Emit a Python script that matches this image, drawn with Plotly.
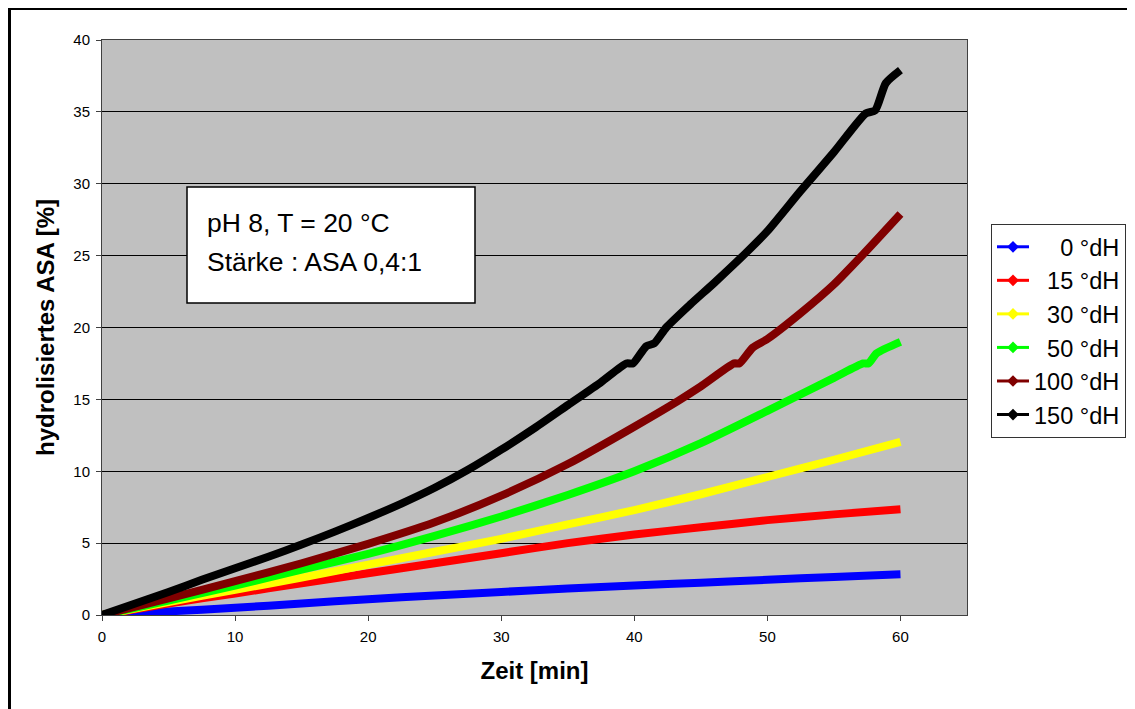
import plotly.graph_objects as go

# ---- data ----
series_names = ["0 °dH", "15 °dH", "30 °dH", "50 °dH", "100 °dH", "150 °dH"]
legend_labels = ["\u2007\u20070 °dH", "\u200715 °dH", "\u200730 °dH", "\u200750 °dH", "100 °dH", "150 °dH"]
colors = ["#0000FF", "#FF0000", "#FFFF00", "#00FF00", "#800000", "#000000"]

x_0dH = [0, 5, 10, 15, 20, 25, 30, 35, 40, 45, 50, 55, 60]
y_0dH = [0, 0.25, 0.5, 0.8, 1.1, 1.35, 1.6, 1.85, 2.05, 2.25, 2.45, 2.65, 2.83]

x_15dH = [0, 5, 10, 15, 20, 25, 30, 35, 40, 45, 50, 55, 60]
y_15dH = [0, 0.8, 1.5, 2.2, 2.9, 3.6, 4.3, 5.0, 5.6, 6.1, 6.6, 7.0, 7.35]

x_30dH = [0, 5, 10, 15, 20, 25, 30, 35, 40, 45, 50, 55, 60]
y_30dH = [0, 0.9, 1.75, 2.6, 3.5, 4.4, 5.3, 6.3, 7.3, 8.4, 9.6, 10.8, 12.05]

x_50dH = [0, 5, 10, 15, 20, 25, 30, 35, 40, 45, 50, 55, 57.2, 57.6, 58.2, 60]
y_50dH = [0, 1.0, 2.05, 3.15, 4.25, 5.5, 6.85, 8.35, 10.0, 11.95, 14.2, 16.5, 17.5, 17.5, 18.2, 19.0]

x_100dH = [0, 5, 10, 15, 20, 25, 30, 35, 40, 43.3, 45, 47.5, 47.9, 48.9, 50, 52.5, 55, 57.2, 60]
y_100dH = [0, 1.15, 2.35, 3.6, 4.95, 6.45, 8.3, 10.5, 13.1, 14.9, 15.9, 17.5, 17.5, 18.6, 19.2, 21.0, 23.0, 25.1, 27.9]

x_150dH = [0, 2.5, 5, 7.5, 10, 12.5, 15, 17.5, 20, 22.5, 25, 27.5, 30, 32.5, 35, 37.5,
           39.4, 39.9, 40.9, 41.5, 42.4, 44.2, 46, 48.4, 50, 52.5, 55, 57.4, 58.1, 58.9, 60]
y_150dH = [0, 0.8, 1.6, 2.45, 3.25, 4.05, 4.9, 5.8, 6.75, 7.75, 8.85, 10.1, 11.5, 13.0, 14.6, 16.2,
           17.5, 17.5, 18.7, 18.9, 20.0, 21.6, 23.1, 25.2, 26.7, 29.5, 32.2, 34.9, 35.1, 37.0, 37.9]

xs = [x_0dH, x_15dH, x_30dH, x_50dH, x_100dH, x_150dH]
ys = [y_0dH, y_15dH, y_30dH, y_50dH, y_100dH, y_150dH]

x_ticks = [0, 10, 20, 30, 40, 50, 60]
y_ticks = [0, 5, 10, 15, 20, 25, 30, 35, 40]

FONT = "Liberation Sans, Arial, sans-serif"

# The page body has an 8px margin, so the figure is drawn 8px right/down.
OFF = 8
W, H = 1135 - OFF, 709 - OFF
# plot area in screen pixels: x 102..967, y 40..615
L, R, T, B = 102 - OFF, 967 - OFF, 40 - OFF, 615 - OFF

def px(v):  # screen x -> paper
    return (v - OFF - L) / (R - L)
def py(v):  # screen y -> paper
    return (B - (v - OFF)) / (B - T)

fig = go.Figure()

# data lines
for name, c, x, y in zip(series_names, colors, xs, ys):
    fig.add_trace(go.Scatter(
        x=x, y=y, mode="lines", name=name, showlegend=False,
        line=dict(color=c, width=8, shape="spline", smoothing=0.6),
        hoverinfo="x+y",
    ))

# legend entries (line + diamond marker)
for i, (lab, c) in enumerate(zip(legend_labels, colors)):
    fig.add_trace(go.Scatter(
        x=[None], y=[None], mode="lines+markers", name=lab,
        legendgroup=f"g{i}",
        line=dict(color=c, width=3),
        marker=dict(symbol="diamond", size=9, color=c),
    ))

shapes = [
    # text box
    dict(type="rect", xref="paper", yref="paper",
         x0=px(187), x1=px(475), y0=py(303), y1=py(187),
         fillcolor="white", line=dict(color="black", width=1.5), layer="above"),
    # outer chart border (left and top visible)
    dict(type="line", xref="paper", yref="paper",
         x0=px(9.5), x1=px(9.5), y0=py(8), y1=py(730),
         line=dict(color="black", width=3)),
    dict(type="line", xref="paper", yref="paper",
         x0=px(8), x1=px(1150), y0=py(8.5), y1=py(8.5),
         line=dict(color="black", width=3)),
]

annotations = [
    dict(xref="paper", yref="paper", x=px(205), y=py(223), xanchor="left", yanchor="middle",
         text="pH 8, T = 20 °C", showarrow=False, font=dict(family=FONT, size=26.5, color="black")),
    dict(xref="paper", yref="paper", x=px(205), y=py(262), xanchor="left", yanchor="middle",
         text="Stärke : ASA 0,4:1", showarrow=False, font=dict(family=FONT, size=26.5, color="black")),
]

fig.update_layout(
    width=W, height=H,
    margin=dict(l=L, r=W - R, t=T, b=H - B, autoexpand=False),
    paper_bgcolor="white",
    plot_bgcolor="#C0C0C0",
    font=dict(family=FONT, color="black"),
    showlegend=True,
    legend=dict(
        x=px(991), y=py(224), xanchor="left", yanchor="top",
        bgcolor="white", bordercolor="#333333", borderwidth=1,
        font=dict(family=FONT, size=23.5, color="black"),
        tracegroupgap=0, itemwidth=32,
    ),
    shapes=shapes,
    annotations=annotations,
    xaxis=dict(
        range=[0, 65], tickvals=x_ticks, ticktext=[str(v) for v in x_ticks],
        showgrid=False, zeroline=False,
        showline=True, linecolor="#404040", linewidth=1, mirror=True,
        ticks="outside", ticklen=5, tickcolor="#404040",
        tickfont=dict(family=FONT, size=15, color="black"),
        ticklabelstandoff=3,
        title=dict(text="Zeit [min]", standoff=18,
                   font=dict(family=FONT, size=24, color="black", weight="bold")),
    ),
    yaxis=dict(
        range=[0, 40], tickvals=y_ticks, ticktext=[str(v) for v in y_ticks],
        showgrid=True, gridcolor="black", gridwidth=1, zeroline=False,
        showline=True, linecolor="#404040", linewidth=1, mirror=True,
        ticks="outside", ticklen=5, tickcolor="#404040",
        tickfont=dict(family=FONT, size=15, color="black"),
        ticklabelstandoff=3,
        title=dict(text="hydrolisiertes ASA [%]", standoff=11,
                   font=dict(family=FONT, size=24, color="black", weight="bold")),
    ),
)

fig.write_html("out.html")
